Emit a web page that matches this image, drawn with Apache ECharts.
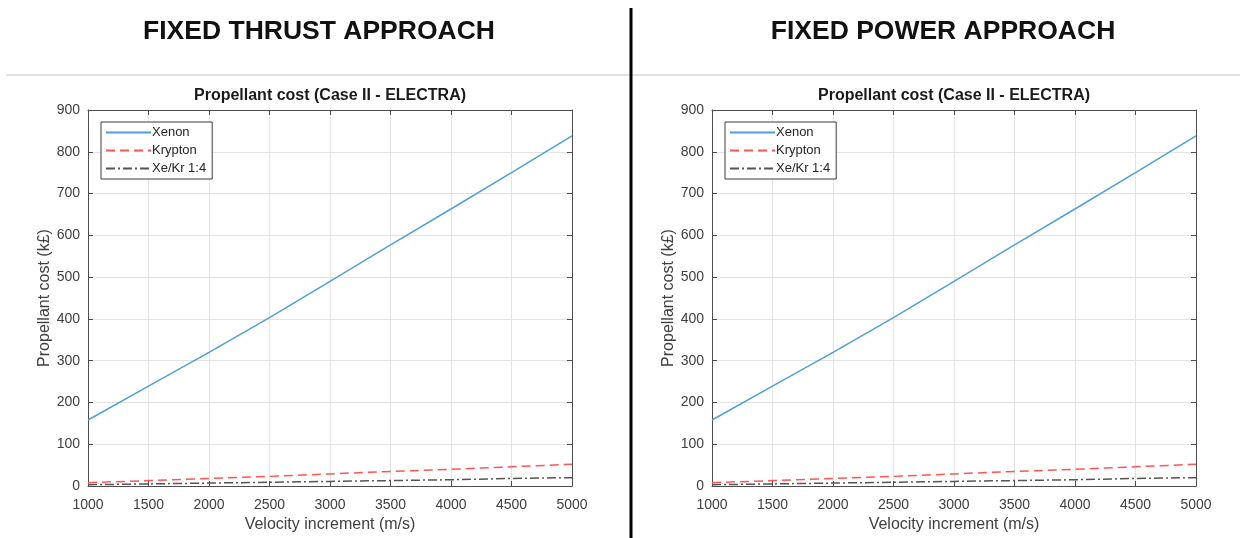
<!DOCTYPE html>
<html>
<head>
<meta charset="utf-8">
<script src="https://cdn.jsdelivr.net/npm/echarts@6/dist/echarts.min.js"></script>
<style>
  html, body { margin: 0; padding: 0; background: #fff; }
  #chart { width: 1244px; height: 538px; }
</style>
</head>
<body>
<div id="chart"></div>
<script>
// Velocity increment (m/s) sample points
const velocity = [1000, 1500, 2000, 2500, 3000, 3500, 4000, 4500, 5000];

// Propellant cost (k£), fixed thrust approach
const thrustXenon   = [158, 239, 320, 403, 490, 577, 663, 750, 838];
const thrustKrypton = [8, 13, 18, 23, 29, 35, 40, 46, 52];
const thrustXeKr    = [3, 5, 7, 9, 11, 13, 15, 18, 20];

// Propellant cost (k£), fixed power approach
const powerXenon   = [158, 239, 320, 403, 490, 577, 663, 750, 838];
const powerKrypton = [8, 13, 18, 23, 29, 35, 40, 46, 52];
const powerXeKr    = [3, 5, 7, 9, 11, 13, 15, 18, 20];

const seriesNames = ['Xenon', 'Krypton', 'Xe/Kr 1:4'];
const panelTitles = ['FIXED THRUST APPROACH', 'FIXED POWER APPROACH'];
const plotTitle = 'Propellant cost (Case II - ELECTRA)';
const xAxisTitle = 'Velocity increment (m/s)';
const yAxisTitle = 'Propellant cost (k£)';

const FONT = '"Liberation Sans", Arial, sans-serif';
const AXIS_COLOR = '#4d4d4d';
const LABEL_COLOR = '#404040';

const pair = (vals) => velocity.map((v, i) => [v, vals[i]]);
const plain = (v) => String(v);

const styles = [
  { color: '#4fa0d8', type: 'solid' },
  { color: '#ff5555', type: [9, 5] },
  { color: '#555555', type: [9, 3, 2, 3] }
];

const panels = [
  { left: 88,  right: 672, data: [thrustXenon, thrustKrypton, thrustXeKr] },
  { left: 712, right: 48,  data: [powerXenon, powerKrypton, powerXeKr] }
];

const grid = [], xAxis = [], yAxis = [], series = [], legend = [], title = [];

const frameAxis = {
  axisLine: { show: true, onZero: false, lineStyle: { color: AXIS_COLOR, width: 1 } },
  axisTick: { show: true, inside: true, length: 5, lineStyle: { color: AXIS_COLOR } }
};

panels.forEach((p, g) => {
  grid.push({ left: p.left, right: p.right, top: 110, bottom: 45, containLabel: false });

  // bottom axis with labels
  xAxis.push(Object.assign({
    type: 'value', gridIndex: g, min: 1000, max: 5000, interval: 500,
    name: xAxisTitle, nameLocation: 'middle', nameGap: 31,
    nameTextStyle: { fontFamily: FONT, fontSize: 16, color: LABEL_COLOR },
    axisLabel: { fontFamily: FONT, fontSize: 14, color: LABEL_COLOR, margin: 12, formatter: plain },
    splitLine: { show: true, lineStyle: { color: '#e3e3e3', width: 1 } }
  }, frameAxis));
  // top axis: frame with ticks only
  xAxis.push(Object.assign({
    type: 'value', gridIndex: g, min: 1000, max: 5000, interval: 500, position: 'top',
    axisLabel: { show: false }, splitLine: { show: false }
  }, frameAxis));
  // left axis with labels
  yAxis.push(Object.assign({
    type: 'value', gridIndex: g, min: 0, max: 900, interval: 100,
    name: yAxisTitle, nameLocation: 'middle', nameGap: 34,
    nameTextStyle: { fontFamily: FONT, fontSize: 16, color: LABEL_COLOR },
    axisLabel: { fontFamily: FONT, fontSize: 14, color: LABEL_COLOR, margin: 8, formatter: plain },
    splitLine: { show: true, lineStyle: { color: '#e3e3e3', width: 1 } }
  }, frameAxis));
  // right axis: frame with ticks only
  yAxis.push(Object.assign({
    type: 'value', gridIndex: g, min: 0, max: 900, interval: 100, position: 'right',
    axisLabel: { show: false }, splitLine: { show: false }
  }, frameAxis));

  seriesNames.forEach((name, k) => {
    series.push({
      name, type: 'line',
      xAxisIndex: g * 2, yAxisIndex: g * 2,
      data: pair(p.data[k]),
      showSymbol: false, symbol: 'none', animation: false,
      lineStyle: { color: styles[k].color, width: 1.5, type: styles[k].type },
      itemStyle: { color: styles[k].color },
      z: 3 - k
    });
  });

  const gridLeft = p.left;
  const gridRight = 1244 - p.right;
  legend.push({
    data: seriesNames,
    left: gridLeft + 13, top: 122,
    orient: 'vertical',
    itemWidth: 45, itemHeight: 12, itemGap: 5,
    padding: [4, 6, 4, 4],
    backgroundColor: '#fff',
    borderColor: '#3a3a3a', borderWidth: 1,
    itemStyle: { opacity: 0 },
    textStyle: { fontFamily: FONT, fontSize: 13, color: '#262626', padding: [0, 0, 0, -4] },
    selectedMode: false
  });

  const cx = (gridLeft + gridRight) / 2;
  title.push({
    text: plotTitle, left: cx, top: 88, textAlign: 'center', padding: 0,
    textStyle: { fontFamily: FONT, fontSize: 16, fontWeight: 'bold', color: '#1a1a1a' }
  });
});

const headingFont = 'bold 26.5px "Liberation Sans", Arial, sans-serif';

const chart = echarts.init(document.getElementById('chart'), null, { renderer: 'canvas' });
chart.setOption({
  animation: false,
  backgroundColor: '#fff',
  title,
  legend,
  grid, xAxis, yAxis, series,
  graphic: [
    // panel headings
    {
      type: 'text', x: 319, y: 32, z: 10,
      style: { text: panelTitles[0], font: headingFont, fill: '#111', textAlign: 'center', textVerticalAlign: 'middle' }
    },
    {
      type: 'text', x: 943, y: 32, z: 10,
      style: { text: panelTitles[1], font: headingFont, fill: '#111', textAlign: 'center', textVerticalAlign: 'middle' }
    },
    // separator under the headings
    {
      type: 'line', shape: { x1: 6, y1: 75, x2: 1240, y2: 75 },
      style: { stroke: '#d9d9d9', lineWidth: 1.5 }, z: 5
    },
    // vertical divider between the two panels
    {
      type: 'line', shape: { x1: 631, y1: 8, x2: 631, y2: 538 },
      style: { stroke: '#000', lineWidth: 3 }, z: 6
    }
  ]
});
</script>
</body>
</html>
